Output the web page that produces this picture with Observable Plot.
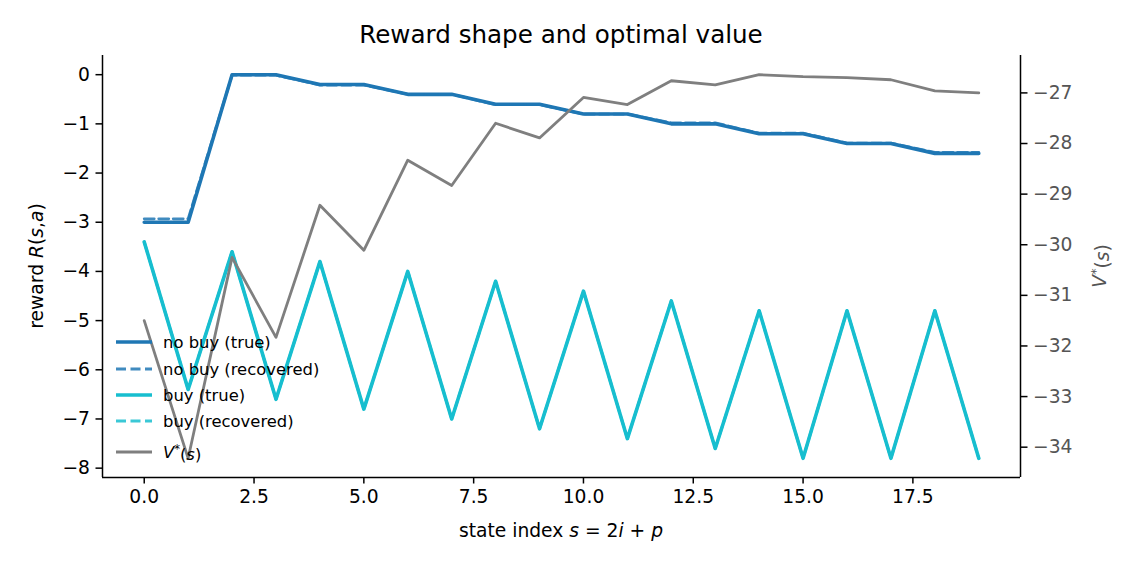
<!DOCTYPE html>
<html>
<head>
<meta charset="utf-8">
<script src="https://cdn.jsdelivr.net/npm/d3@7"></script>
<script src="https://cdn.jsdelivr.net/npm/@observablehq/plot@0.6"></script>
<style>
  body { margin: 0; background: #fff; }
  #chart { position: relative; width: 1140px; height: 570px; }
  #chart svg { position: absolute; left: 0; top: 0; }
</style>
</head>
<body>
<div id="chart"></div>
<script>
// State index s = 2i + p
const stateIndex = [0, 1, 2, 3, 4, 5, 6, 7, 8, 9, 10, 11, 12, 13, 14, 15, 16, 17, 18, 19];

// Reward for the "no buy" action
const noBuyTrue      = [-3.0, -3.0, 0.0, 0.0, -0.2, -0.2, -0.4, -0.4, -0.6, -0.6, -0.8, -0.8, -1.0, -1.0, -1.2, -1.2, -1.4, -1.4, -1.6, -1.6];
const noBuyRecovered = [-2.93, -2.93, -0.01, -0.01, -0.21, -0.21, -0.4, -0.4, -0.61, -0.61, -0.8, -0.8, -0.98, -0.98, -1.19, -1.19, -1.39, -1.39, -1.58, -1.58];

// Reward for the "buy" action
const buyTrue      = [-3.4, -6.4, -3.6, -6.6, -3.8, -6.8, -4.0, -7.0, -4.2, -7.2, -4.4, -7.4, -4.6, -7.6, -4.8, -7.8, -4.8, -7.8, -4.8, -7.8];
const buyRecovered = [-3.4, -6.4, -3.6, -6.6, -3.8, -6.8, -4.0, -7.0, -4.2, -7.2, -4.4, -7.4, -4.6, -7.6, -4.8, -7.8, -4.8, -7.8, -4.8, -7.8];

// Optimal value function V*(s)
const vStar = [-31.50, -34.22, -30.25, -31.83, -29.22, -30.11, -28.33, -28.83, -27.60, -27.89, -27.09, -27.23, -26.76, -26.84, -26.64, -26.68, -26.70, -26.74, -26.96, -27.00];

// Tick values
const xTicks = [0, 2.5, 5, 7.5, 10, 12.5, 15, 17.5];
const rewardTicks = [0, -1, -2, -3, -4, -5, -6, -7, -8];
const valueTicks = [-27, -28, -29, -30, -31, -32, -33, -34];

// Colours
const BLUE = "#1f77b4", CYAN = "#17becf", GRAY = "#7f7f7f";

const rows = stateIndex.map((s, k) => ({
  s,
  noBuyTrue: noBuyTrue[k],
  noBuyRecovered: noBuyRecovered[k],
  buyTrue: buyTrue[k],
  buyRecovered: buyRecovered[k],
  v: vStar[k]
}));

// Data limits padded by 5% on each side
function padded(values) {
  const [lo, hi] = d3.extent(values);
  const m = (hi - lo) * 0.05;
  return [lo - m, hi + m];
}
const xDomain = padded(stateIndex);
const rewardDomain = padded([...noBuyTrue, ...noBuyRecovered, ...buyTrue, ...buyRecovered]);
const valueDomain = padded(vStar);

const W = 1140, H = 570;
const margins = { marginTop: 55, marginRight: 120, marginBottom: 93, marginLeft: 102 };
const FONT = "DejaVu Sans, Liberation Sans, sans-serif";
const TICK_FS = 18.7;
const minus = d => String(d).replace("-", "\u2212");

// Left axis: rewards
const rewardPlot = Plot.plot({
  width: W, height: H, ...margins,
  style: { fontFamily: FONT, fontSize: `${TICK_FS}px`, color: "#000", background: "transparent" },
  x: { domain: xDomain },
  y: { domain: rewardDomain },
  marks: [
    Plot.axisX(xTicks, { tickFormat: d => d.toFixed(1), tickSize: 6.5, tickPadding: 6, strokeWidth: 1.5, fontSize: TICK_FS, label: null }),
    Plot.axisY(rewardTicks, { tickFormat: minus, tickSize: 6.5, tickPadding: 6, strokeWidth: 1.5, fontSize: TICK_FS, label: null }),
    Plot.ruleX([xDomain[0]], { strokeWidth: 1.5 }),
    Plot.ruleY([rewardDomain[0]], { strokeWidth: 1.5 }),
    Plot.line(rows, { x: "s", y: "noBuyTrue", stroke: BLUE, strokeWidth: 3.6 }),
    Plot.line(rows, { x: "s", y: "noBuyRecovered", stroke: BLUE, strokeWidth: 2.8, strokeOpacity: 0.85, strokeDasharray: "10,4.5" }),
    Plot.line(rows, { x: "s", y: "buyTrue", stroke: CYAN, strokeWidth: 3.6 }),
    Plot.line(rows, { x: "s", y: "buyRecovered", stroke: CYAN, strokeWidth: 2.8, strokeOpacity: 0.85, strokeDasharray: "10,4.5" })
  ]
});

// Right axis: optimal value
const valuePlot = Plot.plot({
  width: W, height: H, ...margins,
  style: { fontFamily: FONT, fontSize: `${TICK_FS}px`, color: "#000", background: "transparent" },
  x: { domain: xDomain, axis: null },
  y: { domain: valueDomain },
  marks: [
    Plot.axisY(valueTicks, { anchor: "right", tickFormat: minus, tickSize: 6.5, tickPadding: 6, strokeWidth: 1.5, stroke: "#000", fill: "#555", fontSize: TICK_FS, label: null }),
    Plot.ruleX([xDomain[1]], { strokeWidth: 1.5 }),
    Plot.line(rows, { x: "s", y: "v", stroke: GRAY, strokeWidth: 2.8 })
  ]
});

const chart = document.getElementById("chart");
chart.append(rewardPlot, valuePlot);

// Titles and axis labels, with italic math parts
const svg = d3.select(valuePlot);
function richText(sel, parts) {
  parts.forEach(p => {
    const t = sel.append("tspan").text(p.t);
    if (p.i) t.attr("font-style", "italic");
    if (p.sup) t.attr("font-size", "0.7em").attr("dy", "-0.45em");
    if (p.dy) t.attr("dy", p.dy);
  });
  return sel;
}

svg.append("text")
  .attr("x", 561).attr("y", 43)
  .attr("text-anchor", "middle")
  .attr("font-family", FONT).attr("font-size", 24.6)
  .attr("fill", "#000")
  .text("Reward shape and optimal value");

richText(svg.append("text")
  .attr("x", 561).attr("y", 537)
  .attr("text-anchor", "middle")
  .attr("font-family", FONT).attr("font-size", TICK_FS)
  .attr("fill", "#000"),
  [{ t: "state index " }, { t: "s", i: true }, { t: " = 2" }, { t: "i", i: true }, { t: " + " }, { t: "p", i: true }]);

richText(svg.append("text")
  .attr("transform", "translate(43,266) rotate(-90)")
  .attr("text-anchor", "middle")
  .attr("font-family", FONT).attr("font-size", TICK_FS)
  .attr("fill", "#000"),
  [{ t: "reward " }, { t: "R", i: true }, { t: "(" }, { t: "s", i: true }, { t: "," }, { t: "a", i: true }, { t: ")" }]);

richText(svg.append("text")
  .attr("transform", "translate(1106,266) rotate(-90)")
  .attr("text-anchor", "middle")
  .attr("font-family", FONT).attr("font-size", TICK_FS)
  .attr("fill", "#555"),
  [{ t: "V", i: true }, { t: "*", sup: true }, { t: "(", dy: "0.45em" }, { t: "s", i: true }, { t: ")" }]);

// Legend
const legendItems = [
  { parts: [{ t: "no buy (true)" }], color: BLUE, width: 3.6, dash: null, opacity: 1, y: 342 },
  { parts: [{ t: "no buy (recovered)" }], color: BLUE, width: 2.8, dash: "10,4.5", opacity: 0.85, y: 369 },
  { parts: [{ t: "buy (true)" }], color: CYAN, width: 3.6, dash: null, opacity: 1, y: 395 },
  { parts: [{ t: "buy (recovered)" }], color: CYAN, width: 2.8, dash: "10,4.5", opacity: 0.85, y: 421 },
  { parts: [{ t: "V", i: true }, { t: "*", sup: true }, { t: "(", dy: "0.45em" }, { t: "s", i: true }, { t: ")" }], color: GRAY, width: 2.8, dash: null, opacity: 1, y: 452 }
];
const legend = svg.append("g")
  .attr("font-family", FONT).attr("font-size", 16.4)
  .attr("text-anchor", "start");
legendItems.forEach(item => {
  legend.append("line")
    .attr("x1", 116).attr("x2", 152)
    .attr("y1", item.y).attr("y2", item.y)
    .attr("stroke", item.color)
    .attr("stroke-width", item.width)
    .attr("stroke-opacity", item.opacity)
    .attr("stroke-dasharray", item.dash);
  richText(legend.append("text")
    .attr("x", 163).attr("y", item.y)
    .attr("dy", "0.35em")
    .attr("text-anchor", "start")
    .attr("fill", "#000"), item.parts);
});
</script>
</body>
</html>
